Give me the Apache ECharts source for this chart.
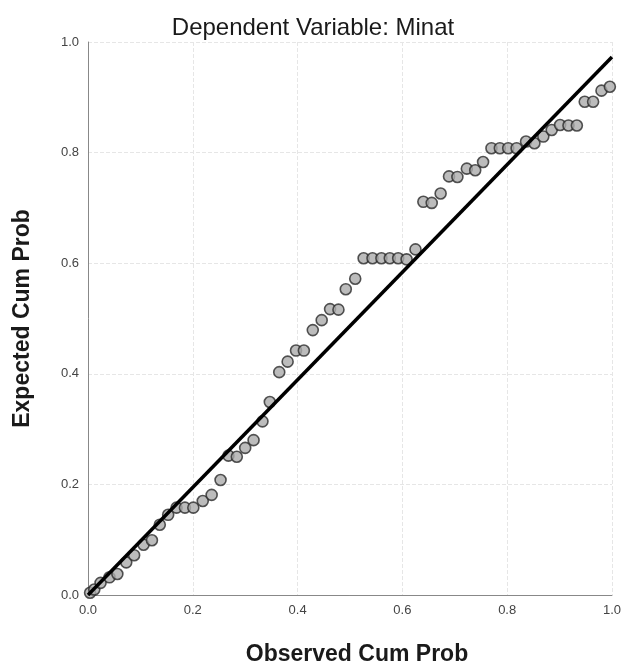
<!DOCTYPE html>
<html>
<head>
<meta charset="utf-8">
<script src="https://cdn.jsdelivr.net/npm/echarts@6/dist/echarts.min.js"></script>
<style>
  html, body { margin: 0; padding: 0; background: #fff; }
  #chart { width: 624px; height: 671px; }
</style>
</head>
<body>
<div id="chart"></div>
<script>
// observed / expected cumulative probabilities
const observed = [0.004, 0.012, 0.024, 0.041, 0.056, 0.073, 0.088, 0.106, 0.122, 0.137, 0.153, 0.169, 0.185, 0.201, 0.219, 0.236, 0.253, 0.268, 0.284, 0.300, 0.316,
  0.333, 0.347, 0.365, 0.381, 0.397, 0.412, 0.429, 0.446, 0.462, 0.478, 0.492, 0.510, 0.526, 0.543, 0.560, 0.576, 0.592, 0.608, 0.625,
  0.640, 0.656, 0.673, 0.689, 0.705, 0.723, 0.739, 0.754, 0.770, 0.786, 0.802, 0.818, 0.836, 0.852, 0.869, 0.885, 0.901, 0.917, 0.933, 0.948, 0.964, 0.980, 0.996]
const expected = [0.004, 0.010, 0.022, 0.032, 0.038, 0.059, 0.072, 0.091, 0.099, 0.127, 0.145, 0.158, 0.158, 0.158, 0.170, 0.181, 0.208, 0.252, 0.250, 0.266, 0.280,
  0.314, 0.349, 0.403, 0.422, 0.442, 0.442, 0.479, 0.497, 0.517, 0.516, 0.553, 0.572, 0.609, 0.609, 0.609, 0.609, 0.609, 0.607, 0.625,
  0.711, 0.709, 0.726, 0.757, 0.756, 0.771, 0.768, 0.783, 0.808, 0.808, 0.808, 0.808, 0.820, 0.817, 0.829, 0.841, 0.850, 0.849, 0.849, 0.892, 0.892, 0.912, 0.919]
// reference line as it appears in the photo
const refX = [0, 1]
const refY = [0, 0.973]

const chart = echarts.init(document.getElementById('chart'))
const fmt = v => v.toFixed(1)

chart.setOption({
  backgroundColor: '#fff',
  animation: false,
  title: {
    text: 'Dependent Variable: Minat',
    left: 308, top: 11, textAlign: 'center',
    textStyle: { fontFamily: 'Liberation Sans', fontSize: 24, fontWeight: 'normal', color: '#1a1a1a' }
  },
  grid: { left: 88, right: 12, top: 42, bottom: 74 },
  xAxis: {
    type: 'value', min: 0, max: 1, interval: 0.2,
    name: 'Observed Cum Prob', nameLocation: 'middle', nameGap: 48,
    nameTextStyle: { fontFamily: 'Liberation Sans', fontSize: 23, fontWeight: 'bold', color: '#1a1a1a', padding: [0, 0, 0, 14] },
    axisLine: { lineStyle: { color: '#888', width: 1 } },
    axisTick: { show: false },
    axisLabel: { formatter: fmt, color: '#444', fontSize: 13, fontFamily: 'Liberation Sans', margin: 9 },
    splitLine: { lineStyle: { color: '#e6e6e6', type: 'dashed' } }
  },
  yAxis: {
    type: 'value', min: 0, max: 1, interval: 0.2,
    name: 'Expected Cum Prob', nameLocation: 'middle', nameGap: 54,
    nameTextStyle: { fontFamily: 'Liberation Sans', fontSize: 23, fontWeight: 'bold', color: '#1a1a1a' },
    axisLine: { show: true, lineStyle: { color: '#888', width: 1 } },
    axisTick: { show: false },
    axisLabel: { formatter: fmt, color: '#444', fontSize: 13, fontFamily: 'Liberation Sans', margin: 9 },
    splitLine: { lineStyle: { color: '#e6e6e6', type: 'dashed' } }
  },
  series: [
    {
      type: 'line',
      data: refX.map((x, i) => [x, refY[i]]),
      showSymbol: false,
      lineStyle: { color: '#000', width: 3.5 },
      z: 3
    },
    {
      type: 'scatter',
      data: observed.map((x, i) => [x, expected[i]]),
      symbol: 'circle',
      symbolSize: 11,
      itemStyle: { color: '#ababab', borderColor: '#2a2a2a', borderWidth: 1.6 },
      z: 2
    }
  ]
})
</script>
</body>
</html>
